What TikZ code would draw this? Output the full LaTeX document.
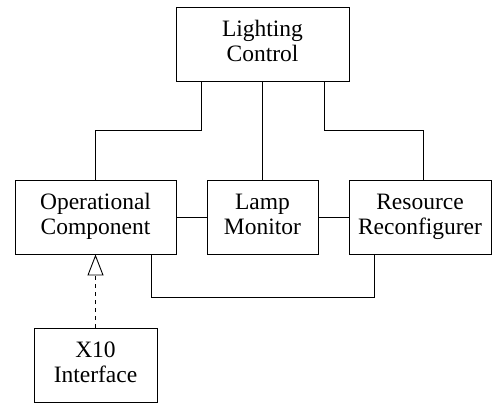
\documentclass[tikz,border=0pt]{standalone}
\usepackage{fontspec}
\setmainfont{Liberation Serif}
\usetikzlibrary{arrows.meta}
\begin{document}
\begin{tikzpicture}[x=1pt,y=-1pt,
  box/.style={draw, line width=0.9pt, rectangle, minimum height=74pt, inner sep=0pt, align=center,
    font=\fontsize{23.5pt}{25pt}\selectfont,
    execute at begin node=\rule{0pt}{19.5pt}, execute at end node=\rule[-5.5pt]{0pt}{5.5pt}},
  conn/.style={line width=0.9pt}]
\useasboundingbox (0,0) rectangle (492,405);
\node[box, minimum width=173pt] (LC) at (262.5,44) {Lighting\\Control};
\node[box, minimum width=161pt] (OC) at (95.5,217) {Operational\\Component};
\node[box, minimum width=111pt] (LM) at (262.5,217) {Lamp\\Monitor};
\node[box, minimum width=142pt] (RR) at (420,217) {Resource\\Reconfigurer};
\node[box, minimum width=123pt] (X10) at (95.5,365) {X10\\Interface};
\draw[conn] ([xshift=-61.5pt]LC.south) -- ++(0,49) -| (OC.north);
\draw[conn] (LC.south) -- (LM.north);
\draw[conn] ([xshift=61.5pt]LC.south) -- ++(0,49) -| ([xshift=3pt]RR.north);
\draw[conn] (OC.east) -- (LM.west);
\draw[conn] (LM.east) -- (RR.west);
\draw[conn] ([xshift=55.5pt]OC.south) -- ++(0,43) -| ([xshift=-46pt]RR.south);
\draw[conn, dash pattern=on 4pt off 4pt, -{Triangle[open, width=16pt, length=21pt]}] (X10.north) -- (OC.south);
\end{tikzpicture}
\end{document}
